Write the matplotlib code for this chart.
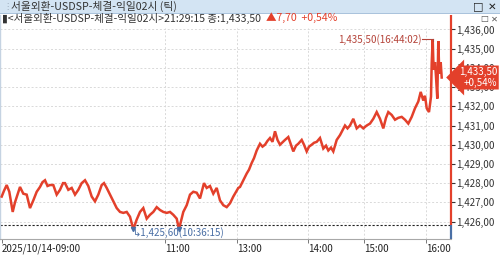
import matplotlib
matplotlib.use("Agg")
import matplotlib.pyplot as plt
import matplotlib.transforms as mtransforms
from matplotlib.patches import Rectangle
import numpy as np

plt.rcParams['font.family'] = ['Noto Sans CJK KR', 'DejaVu Sans']

# ---- data (tick sequence position, price) ----
tick_idx = [1.7, 4, 6.7, 9.3, 12.7, 15, 17.5, 20, 23.3, 26.7, 30, 33.3, 36.7, 40, 42.5, 45, 47.5, 50,
            53.3, 56.7, 60, 63, 65, 68.3, 71.7, 75, 78.3, 81.7, 85, 88.3, 91.7, 95, 98.3, 101.7, 104,
            106.7, 110, 113.3, 116.7, 120, 123.3, 126.7, 130, 133.3, 136.7, 140, 143.3, 146.7, 150,
            153.3, 156.7, 160, 163.3, 166.7, 170, 173.3, 176.7, 179, 183.3, 186.7, 190, 193.3, 196.7,
            200, 204, 206.7, 210, 213.3, 216.7, 220, 223.3, 226.7, 230, 233.3, 238.3, 240, 243.3,
            246.7, 249, 251.7, 254, 256.7, 260, 262.5, 265, 267.5, 270, 272.5, 275, 277.5, 280, 283,
            285, 288.3, 291, 293.3, 296, 298.3, 301.7, 304, 306.7, 309, 311.7, 314, 316.7, 320, 323.3,
            326, 328.3, 331, 333.3, 336.7, 340, 342.5, 345, 347.5, 350, 353.3, 356.7, 360, 363.3,
            366.7, 370, 373.3, 376.7, 380, 383.3, 386, 388.3, 391.7, 395, 398.3, 401.7, 405, 408.3,
            411.7, 415, 418.3, 420.7, 423.3, 425, 426.7, 429, 431, 431.7, 432.7, 433.3, 434, 435,
            436, 437.3, 438.3, 439.3, 440.7, 441.7]
price = [1427.3, 1427.6, 1427.9, 1427.55, 1426.5, 1427.0, 1427.4, 1427.8, 1427.45, 1427.4, 1426.7,
         1427.1, 1427.55, 1427.8, 1428.05, 1428.15, 1427.85, 1427.9, 1427.9, 1427.4, 1427.65, 1428.0,
         1428.0, 1427.65, 1427.75, 1427.4, 1427.65, 1428.0, 1428.15, 1427.85, 1427.3, 1427.05, 1427.4,
         1427.9, 1428.0, 1427.75, 1427.4, 1427.05, 1426.7, 1426.5, 1426.45, 1426.5, 1426.25, 1425.6,
         1426.1, 1426.5, 1426.7, 1426.15, 1426.35, 1426.5, 1426.75, 1426.6, 1426.5, 1426.45, 1426.5,
         1426.35, 1426.15, 1425.6, 1426.5, 1426.85, 1427.4, 1427.55, 1427.5, 1427.2, 1428.0, 1427.75,
         1427.85, 1427.45, 1427.75, 1427.1, 1426.85, 1426.75, 1426.95, 1427.3, 1427.75, 1427.8,
         1428.15, 1428.5, 1428.7, 1429.05, 1429.3, 1429.7, 1430.05, 1429.9, 1430.0, 1430.2, 1430.35,
         1430.15, 1430.7, 1430.25, 1430.0, 1430.15, 1430.25, 1430.4, 1430.0, 1429.65, 1429.95,
         1430.05, 1430.25, 1430.0, 1429.65, 1429.9, 1430.0, 1430.1, 1430.15, 1430.35, 1429.8,
         1429.95, 1429.7, 1429.85, 1429.65, 1430.25, 1430.5, 1430.75, 1431.0, 1430.85, 1431.0,
         1431.35, 1430.85, 1431.0, 1430.85, 1431.0, 1431.1, 1431.35, 1431.7, 1431.35, 1430.85,
         1431.4, 1431.7, 1431.55, 1431.3, 1431.4, 1431.45, 1431.3, 1431.1, 1431.45, 1431.9, 1432.25,
         1432.75, 1432.3, 1432.55, 1431.9, 1431.7, 1432.5, 1434.25, 1435.5, 1434.4, 1433.9, 1434.3,
         1433.55, 1432.4, 1435.4, 1433.7, 1434.3, 1433.5]

prev_close = 1425.80
last_price = 1433.50
change = 7.70
change_pct = 0.54
max_time = "16:44:02"
min_time = "10:36:15"

x_tick_pos = [2, 165, 237, 308, 364, 426]
x_tick_labels = ["2025/10/14-09:00", "11:00", "13:00", "14:00", "15:00", "16:00"]
y_ticks = [1426, 1427, 1428, 1429, 1430, 1431, 1432, 1433, 1434, 1435, 1436]

title = "서울외환-USDSP-체결-익일02시 (틱)"
info_main = "▮<서울외환-USDSP-체결-익일02시>21:29:15 종:"


def kfmt(v):
    return f"{v:,.2f}".replace('.', ',')


RED = '#e3402b'
BLUE = '#4a6fa5'
TXT = '#333333'

W, H = 500, 256
fig = plt.figure(figsize=(5.0, 2.56), dpi=100)
fig.patch.set_facecolor('white')

ax_left, ax_right, ax_top, ax_bot = 0, 451, 15, 239
ax = fig.add_axes([ax_left / W, 1 - ax_bot / H, (ax_right - ax_left) / W, (ax_bot - ax_top) / H])
ax.set_facecolor('white')
ax.set_xlim(0, 451)
ax.set_ylim(1425.09, 1436.755)

# grid
for yv in y_ticks:
    ax.axhline(yv, color='#d9d9d9', lw=0.7, dashes=(2, 2), zorder=1)
ax.vlines(x_tick_pos[1:], 1425.09, 1436.1, color='#d9d9d9', lw=0.7, linestyles=(0, (2, 2)), zorder=1)

# previous close dotted line
ax.axhline(prev_close, color='#222222', lw=0.8, dashes=(2, 1.6), zorder=2)

# price line
ax.plot(tick_idx, price, color=RED, lw=1.8, zorder=3, solid_joinstyle='miter')

# min markers
pr = np.array(price)
ti = np.array(tick_idx)
pmin = pr.min()
ax.plot(ti[pr == pmin], pr[pr == pmin], 'v', color=BLUE, ms=3, zorder=4)
imin = int(np.argmin(pr))
ax.text(ti[imin], 1425.42, "↳" + kfmt(pmin) + f"({min_time})", color=BLUE, fontsize=7.1,
        ha='left', va='center', zorder=5)

# max annotation
imax = int(np.argmax(pr))
xm, pm = ti[imax], pr[imax]
ax.plot([xm - 11, xm], [pm, pm], color='#b5443a', lw=0.8, zorder=5)
ax.plot([xm, xm], [pm, pm - 0.08], color='#b5443a', lw=0.8, zorder=5)
ax.text(xm - 11.5, pm, kfmt(pm) + f"({max_time})", color='#b5443a', fontsize=7.1,
        ha='right', va='center', zorder=5)

# right bar red/blue
ax.vlines(450.5, prev_close, 1436.755, color=RED, lw=1.6, zorder=6, clip_on=False)
ax.vlines(450.5, 1425.09, prev_close, color=BLUE, lw=1.6, zorder=6, clip_on=False)

# axes styling
for s in ['top', 'right']:
    ax.spines[s].set_visible(False)
ax.spines['left'].set_color('#c5d3e2')
ax.spines['left'].set_linewidth(1.0)
ax.spines['bottom'].set_color('#a8a8a8')
ax.spines['bottom'].set_linewidth(0.8)

ax.yaxis.tick_right()
ax.set_yticks(y_ticks)
ax.set_yticklabels([kfmt(v) for v in y_ticks])
ax.tick_params(axis='y', direction='out', length=3, width=0.8, color='#333333', labelsize=7,
               labelcolor=TXT, pad=0.5)
ax.set_xticks(x_tick_pos)
ax.set_xticklabels(x_tick_labels)
ax.tick_params(axis='x', direction='out', length=3, width=0.7, color='#777777', labelsize=7,
               labelcolor='#222222', pad=0.3)
for lbl in ax.get_xticklabels():
    lbl.set_ha('left')

# last price box
tr = mtransforms.blended_transform_factory(fig.transFigure, ax.transData)
fig.text(497 / W, last_price, kfmt(last_price) + "\n" + f"+{change_pct:.2f}%".replace('.', ','),
         transform=tr, ha='right', va='center', ma='right', color='white', fontsize=7,
         linespacing=1.05,
         bbox=dict(boxstyle='larrow,pad=0.18', fc=RED, ec='none'), zorder=10)

# title bar
fig.patches.append(Rectangle((0, 1 - 12.5 / H), 1, 12.5 / H, transform=fig.transFigure,
                             fc='#d3e4f3', ec='none', zorder=0))
fig.patches.append(Rectangle((0, 1 - 13.5 / H), 1, 1 / H, transform=fig.transFigure,
                             fc='#aac3dc', ec='none', zorder=0))
fig.text(3 / W, 1 - 6.5 / H, "⋮", color='#9aa9b8', fontsize=6, ha='left', va='center',
         family=['DejaVu Sans'])
fig.text(11 / W, 1 - 6.2 / H, title, color=TXT, fontsize=7.7, ha='left', va='center')
fig.text(478 / W, 1 - 6.5 / H, "□", color='#222222', fontsize=8, ha='center', va='center',
         family=['DejaVu Sans'], fontweight='bold')
fig.text(492 / W, 1 - 6.5 / H, "✕", color='#222222', fontsize=7.5, ha='center', va='center',
         family=['DejaVu Sans'], fontweight='bold')

# info row
t1 = fig.text(2 / W, 1 - 18 / H, info_main + kfmt(last_price) + "  ", color=TXT, fontsize=7.6,
              ha='left', va='center')
fig.canvas.draw()
bb = t1.get_window_extent()
fig.text(bb.x1 / W, 1 - 18 / H, "▲" + kfmt(change) + f"  +{change_pct:.2f}%".replace('.', ','),
         color=RED, fontsize=7.6, ha='left', va='center')
fig.text(484 / W, 1 - 19 / H, "□", color='#555555', fontsize=6, ha='center', va='center',
         family=['DejaVu Sans'])
fig.text(494 / W, 1 - 19 / H, "✕", color='#555555', fontsize=6, ha='center', va='center',
         family=['DejaVu Sans'])

fig.savefig("out.png", dpi=100)
